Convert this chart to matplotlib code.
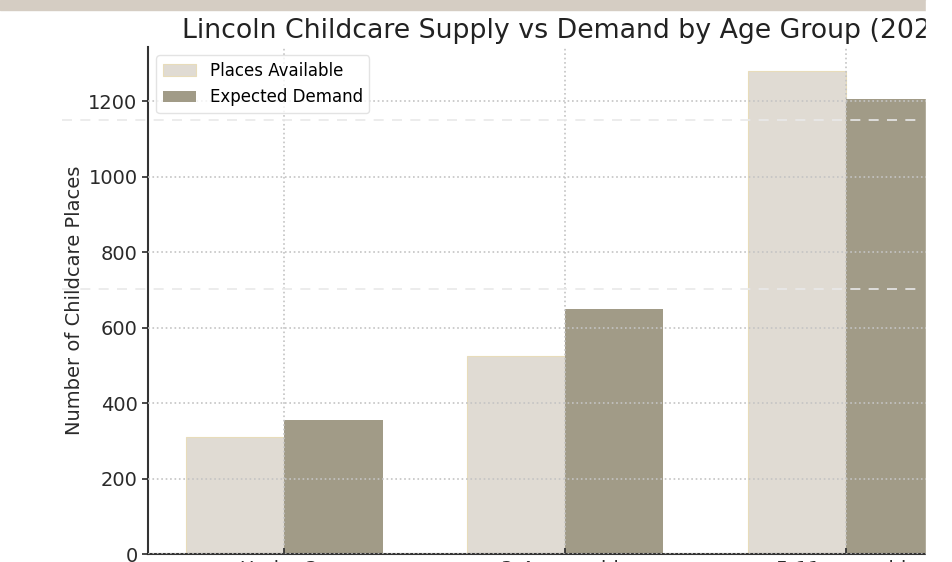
import numpy as np
import matplotlib
matplotlib.use('Agg')
import matplotlib.pyplot as plt
from matplotlib.patches import Rectangle
from matplotlib.lines import Line2D

plt.rcParams['font.family'] = 'DejaVu Sans'

# Childcare places by age group
age_groups = ['Under 3s', '3-4 year olds', '5-11 year olds']
places_available = [310, 525, 1280]
expected_demand = [355, 650, 1205]

light_col = '#e0dbd3'
dark_col = '#a19b87'

W, H = 953, 562
fig = plt.figure(figsize=(W / 100, H / 100), dpi=100)
fig.patch.set_facecolor('white')

# axes box in pixels (left, top, right, bottom)
left, top, right, bottom = 148, 47, 926, 554
ax = fig.add_axes([left / W, 1 - bottom / H, (right - left) / W, (bottom - top) / H])

x = np.arange(len(age_groups))
width = 0.35
ax.bar(x - width / 2, places_available, width, color=light_col,
       edgecolor='#e8dcba', linewidth=0.8, label='Places Available', zorder=2)
ax.bar(x + width / 2, expected_demand, width, color=dark_col,
       label='Expected Demand', zorder=2)

ax.set_xlim(-0.485, 2.285)
ax.set_ylim(0, 1344)
ax.set_yticks([0, 200, 400, 600, 800, 1000, 1200])
ax.set_xticks(x)
ax.set_xticklabels(age_groups)
ax.tick_params(axis='both', labelsize=14, colors='#2a2a2a', length=4, width=1.2)
ax.tick_params(axis='x', direction='in', pad=4.5)
ax.set_ylabel('Number of Childcare Places', fontsize=14, color='#2a2a2a', labelpad=3)

ax.grid(True, linestyle=':', color='#c4c4c4', linewidth=1.2, zorder=3)
ax.set_axisbelow(False)
for side in ['top', 'right']:
    ax.spines[side].set_visible(False)
for side in ['left', 'bottom']:
    ax.spines[side].set_color('#333333')
    ax.spines[side].set_linewidth(1.5)

leg = ax.legend(loc='upper left', fontsize=12, frameon=True, fancybox=True,
                borderaxespad=0.5)
leg.get_frame().set_edgecolor('#dddddd')
leg.set_zorder(5)

fig.text(182 / W, 1 - 31 / H,
         'Lincoln Childcare Supply vs Demand by Age Group (2024)',
         fontsize=19.3, color='#222222', ha='left', va='center')

# beige strip across the top and blank margin on the right
fig.patches.append(Rectangle((0, 1 - 10 / H), 926 / W, 10 / H,
                             transform=fig.transFigure, color='#d5cdc3', zorder=20))
fig.patches.append(Rectangle((926 / W, 0), 1 - 926 / W, 1,
                             transform=fig.transFigure, color='white', zorder=20))

# faint dashed overlay lines
for yp in [120, 289]:
    fig.lines.append(Line2D([62 / W, 920 / W], [1 - yp / H, 1 - yp / H],
                            transform=fig.transFigure, color='#e9e9e9',
                            linewidth=1.2, linestyle=(0, (6, 5)), zorder=15))

fig.savefig('out.png', dpi=100)
